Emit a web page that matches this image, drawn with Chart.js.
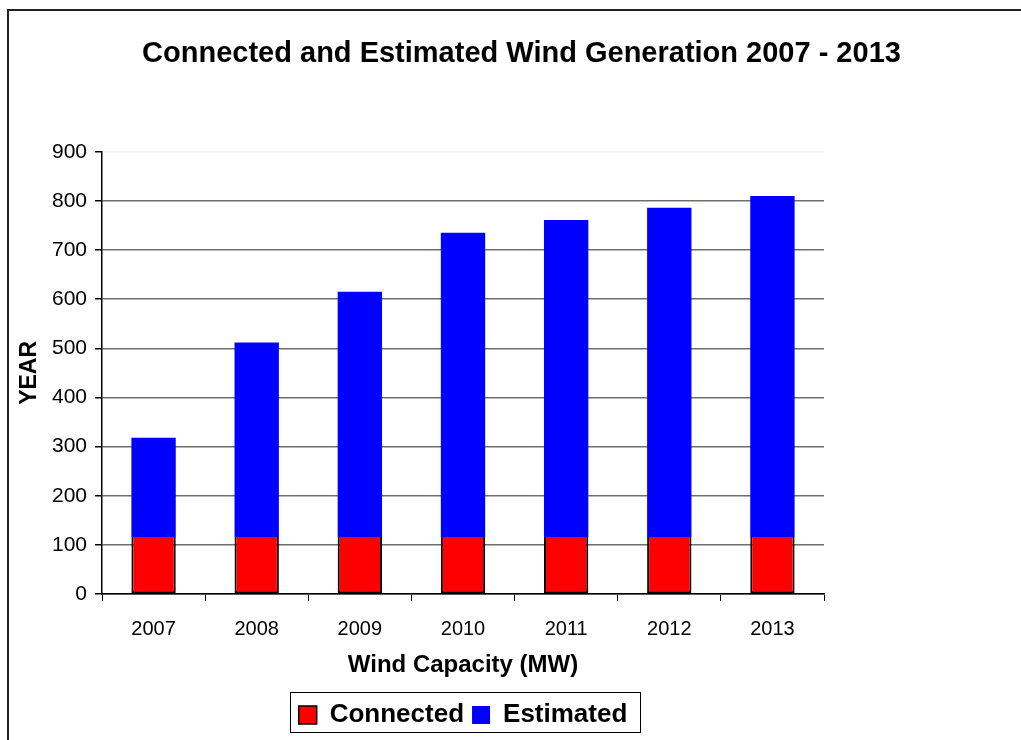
<!DOCTYPE html>
<html>
<head>
<meta charset="utf-8">
<script src="https://cdn.jsdelivr.net/npm/chart.js@4"></script>
<style>
  html, body { margin: 0; padding: 0; background: #fff; }
  #wrap { width: 1021px; height: 740px; }
</style>
</head>
<body>
<div id="wrap"><canvas id="windChart" width="1021" height="740"></canvas></div>
<script>
const years = ['2007', '2008', '2009', '2010', '2011', '2012', '2013'];
const connected = [116, 116, 116, 116, 116, 116, 116];
const estimated = [202, 396, 499, 619, 645, 670, 694];
const yTicks = [0, 100, 200, 300, 400, 500, 600, 700, 800, 900];

const FONT = '"Liberation Sans", Arial, sans-serif';

// page frame (top and left edge) plus the box round the legend
const framePlugin = {
    id: 'frame',
    afterDraw(chart) {
        const ctx = chart.ctx;
        ctx.save();
        ctx.strokeStyle = '#222';
        ctx.lineWidth = 2;
        ctx.beginPath();
        ctx.moveTo(8, 740);
        ctx.lineTo(8, 10);
        ctx.lineTo(1021, 10);
        ctx.stroke();

        const boxes = chart.legend.legendHitBoxes;
        if (boxes && boxes.length) {
            const first = boxes[0];
            const last = boxes[boxes.length - 1];
            const x1 = first.left - 9;
            const x2 = last.left + last.width + 12;
            ctx.strokeStyle = '#000';
            ctx.lineWidth = 1;
            ctx.strokeRect(Math.round(x1) + 0.5, 692.5, Math.round(x2 - x1), 40);
        }
        ctx.restore();
    }
};

new Chart(document.getElementById('windChart').getContext('2d'), {
    type: 'bar',
    data: {
        labels: years,
        datasets: [{
            label: 'Connected',
            data: connected,
            backgroundColor: '#FF0000',
            borderColor: '#000000',
            borderWidth: {left: 2, right: 2, bottom: 2, top: 0},
            borderSkipped: false,
            categoryPercentage: 1,
            barPercentage: 0.43
        }, {
            label: 'Estimated',
            data: estimated,
            backgroundColor: '#0000FF',
            borderWidth: 0,
            categoryPercentage: 1,
            barPercentage: 0.43
        }]
    },
    options: {
        responsive: false,
        animation: false,
        layout: {
            padding: {left: 22, top: 10, right: 0, bottom: 2}
        },
        plugins: {
            title: {
                display: true,
                text: 'Connected and Estimated Wind Generation 2007 - 2013',
                color: '#000',
                font: {family: FONT, size: 29, weight: 'bold'},
                padding: {top: 27, bottom: 80}
            },
            legend: {
                position: 'bottom',
                fullSize: false,
                labels: {
                    color: '#000',
                    font: {family: FONT, size: 26, weight: 'bold'},
                    boxWidth: 18,
                    boxHeight: 18,
                    padding: 8
                }
            },
            tooltip: {enabled: false}
        },
        scales: {
            x: {
                stacked: true,
                offset: true,
                afterFit(scale) {
                    scale.height = 100;
                },
                grid: {
                    offset: true,
                    drawOnChartArea: false,
                    color: '#000',
                    tickLength: 7
                },
                border: {color: '#000', width: 1.5},
                ticks: {
                    color: '#000',
                    font: {family: FONT, size: 20},
                    padding: 16
                },
                title: {
                    display: true,
                    text: 'Wind Capacity (MW)',
                    color: '#000',
                    font: {family: FONT, size: 24, weight: 'bold'},
                    padding: {top: 2, bottom: 14}
                }
            },
            y: {
                stacked: true,
                min: 0,
                max: 900,
                afterBuildTicks(scale) {
                    scale.ticks = yTicks.map(v => ({value: v}));
                },
                afterFit(scale) {
                    scale.width = 80;
                },
                grid: {
                    color: ctx => (ctx.tick && ctx.tick.value === 900) ? '#f2f2f2' : '#6e6e6e',
                    tickColor: '#000',
                    tickLength: 7,
                    lineWidth: 1.5
                },
                border: {color: '#000', width: 1.5},
                ticks: {
                    color: '#000',
                    font: {family: FONT, size: 21},
                    padding: 8
                },
                title: {
                    display: true,
                    text: 'YEAR',
                    color: '#000',
                    font: {family: FONT, size: 23, weight: 'bold'},
                    padding: {top: -6, bottom: 4}
                }
            },
            spacer: {
                type: 'linear',
                position: 'right',
                display: true,
                grid: {display: false},
                border: {display: false},
                ticks: {display: false},
                afterFit(scale) {
                    scale.width = 197;
                }
            }
        }
    },
    plugins: [framePlugin]
});
</script>
</body>
</html>
